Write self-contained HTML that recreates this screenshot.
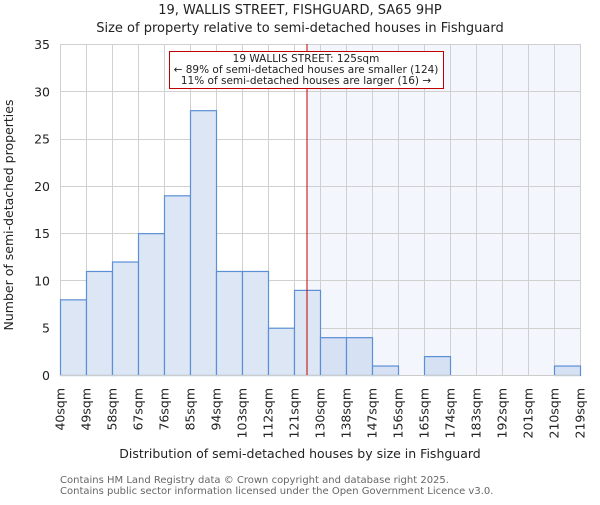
<!DOCTYPE html>
<html><head><meta charset="utf-8"><style>
body{margin:0;background:#fff;}
svg text{font-family:"DejaVu Sans","Liberation Sans",sans-serif;}
</style></head><body>
<svg id="chart" width="600" height="500" viewBox="0 0 600 500" xmlns="http://www.w3.org/2000/svg">
<text x="300" y="14" font-size="13" text-anchor="middle" fill="#222">19, WALLIS STREET, FISHGUARD, SA65 9HP</text>
<text x="300" y="32" font-size="13" text-anchor="middle" fill="#222">Size of property relative to semi-detached houses in Fishguard</text>
<rect id="shade" y="44" height="331" fill="#f3f6fd"></rect>
<g id="grid"></g>
<g id="bars"></g>
<g id="yticks"></g>
<g id="xticks"></g>
<line id="marker" y1="44" y2="375" stroke="#c00000" stroke-width="1"></line>
<g>
<rect x="169.5" y="51.5" width="274" height="37" fill="#fff" stroke="#c00000" stroke-width="1"/>
<text x="306" y="62" font-size="10.5" text-anchor="middle" fill="#222">19 WALLIS STREET: 125sqm</text>
<text x="306" y="73" font-size="10.5" text-anchor="middle" fill="#222">← 89% of semi-detached houses are smaller (124)</text>
<text x="306" y="84" font-size="10.5" text-anchor="middle" fill="#222">11% of semi-detached houses are larger (16) →</text>
</g>
<line x1="60" x2="580" y1="375.5" y2="375.5" stroke="#ccc"/>
<text transform="translate(13,215) rotate(-90)" font-size="12.5" text-anchor="middle" fill="#222">Number of semi-detached properties</text>
<text x="300" y="458" font-size="12.5" text-anchor="middle" fill="#222">Distribution of semi-detached houses by size in Fishguard</text>
<text x="60" y="483" font-size="10" fill="#666">Contains HM Land Registry data © Crown copyright and database right 2025.</text>
<text x="60" y="494" font-size="10" fill="#666">Contains public sector information licensed under the Open Government Licence v3.0.</text>
</svg>
<script>
const categories=["40sqm","49sqm","58sqm","67sqm","76sqm","85sqm","94sqm","103sqm","112sqm","121sqm","130sqm","138sqm","147sqm","156sqm","165sqm","174sqm","183sqm","192sqm","201sqm","210sqm","219sqm"];
const counts=[8,11,12,15,19,28,11,11,5,9,4,4,1,0,2,0,0,0,0,1];
const yTicks=[0,5,10,15,20,25,30,35];
const markerBin=9.5;
const NS="http://www.w3.org/2000/svg";
const X0=60,X1=580,Y0=375,Y1=44,YMAX=35;
const nb=counts.length;
const xs=i=>X0+(X1-X0)*i/nb;
const ys=v=>Y0-(Y0-Y1)*v/YMAX;
function mk(t,a,p){const e=document.createElementNS(NS,t);for(const k in a)e.setAttribute(k,a[k]);p.appendChild(e);return e;}
const grid=document.getElementById('grid'),bars=document.getElementById('bars'),yt=document.getElementById('yticks'),xt=document.getElementById('xticks');
yTicks.forEach(v=>{
 const l=mk('line',{x1:X0,x2:X1,y1:Math.round(ys(v))+0.5,y2:Math.round(ys(v))+0.5,stroke:'#d0d0d0'},grid);
 
 
 const t=mk('text',{x:50,y:ys(v)+5,'font-size':12.5,'text-anchor':'end',fill:'#222'},yt);
 t.textContent=v;
 
 
});
categories.forEach((c,i)=>{
 const x=xs(i);
 const l=mk('line',{x1:Math.round(x)+0.5,x2:Math.round(x)+0.5,y1:Y1,y2:Y0,stroke:'#d0d0d0'},grid);
 
 
 const t=mk('text',{transform:`translate(${x+4.5},${388}) rotate(-90)`,'font-size':12.5,'text-anchor':'end',fill:'#222'},xt);
 t.textContent=c;
 
 
});
const mx=xs(markerBin);
const sh=document.getElementById('shade');sh.setAttribute('x',mx);sh.setAttribute('width',X1-mx);
const m=document.getElementById('marker');m.setAttribute('x1',mx);m.setAttribute('x2',mx);
counts.forEach((v,i)=>{
 if(v<=0)return;
 const r=mk('rect',{x:xs(i)+0.5,y:ys(v)+0.5,width:xs(i+1)-xs(i),height:Y0-ys(v),fill:i>=10?'#d6e1f3':'#dde6f4',stroke:'#5b8fd6','stroke-width':1.2},bars);
 
 
});
</script>
</body></html>
